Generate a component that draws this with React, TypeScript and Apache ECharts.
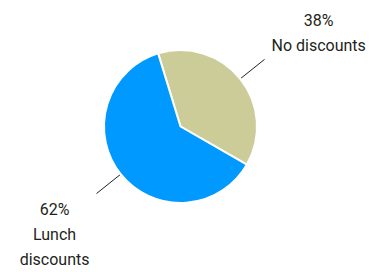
import React, { useEffect, useRef } from "react";
import * as echarts from "echarts";

const categories = ["No discounts", "Lunch\ndiscounts"];
const values = [38, 62];
const colors = ["#CCCC99", "#0099FF"];

const FONT = "Roboto, 'Liberation Sans', sans-serif";

export default function App() {
  const ref = useRef<HTMLDivElement>(null);
  useEffect(() => {
    if (!ref.current) return;
    const chart = echarts.init(ref.current, undefined, { renderer: "svg" });
    const paddings = [
      [0, 0, 53, 0],
      [81, 0, 0, 0],
    ];
    chart.setOption({
      animation: false,
      backgroundColor: "#ffffff",
      series: [
        {
          type: "pie",
          center: [180.5, 126.5],
          radius: 76.5,
          startAngle: 107,
          clockwise: true,
          avoidLabelOverlap: false,
          itemStyle: { borderColor: "#ffffff", borderWidth: 2 },
          label: {
            show: true,
            position: "outside",
            distanceToLabelLine: 7,
            color: "#231F20",
            fontFamily: FONT,
            fontSize: 16,
            formatter: (p: any) =>
              [`{t|${p.value}%}`, ...String(p.name).split("\n").map((s: string) => `{t|${s}}`)].join("\n"),
            rich: {
              t: {
                fontFamily: FONT,
                fontSize: 16,
                lineHeight: 25,
                color: "#231F20",
                align: "center",
              },
            },
          },
          labelLine: {
            show: true,
            length: 31,
            length2: 0,
            smooth: false,
            lineStyle: { color: "#231F20", width: 1 },
          },
          emphasis: { disabled: true },
          data: categories.map((name, i) => ({
            name,
            value: values[i],
            itemStyle: { color: colors[i] },
            label: { padding: paddings[i] },
          })),
        },
      ],
    });
    return () => chart.dispose();
  }, []);
  return (
    <div
      ref={ref}
      style={{ position: "fixed", left: 0, top: 0, width: 375, height: 272 }}
    />
  );
}
